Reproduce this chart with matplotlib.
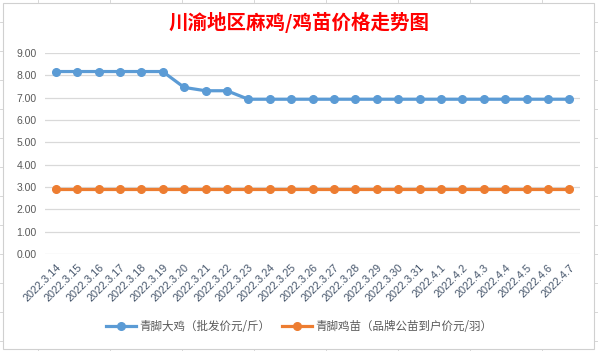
import matplotlib.pyplot as plt
from matplotlib.patches import Rectangle
from matplotlib.lines import Line2D

plt.rcParams['font.family'] = ['Noto Sans CJK SC', 'DejaVu Sans']

dates = ['2022.3.14', '2022.3.15', '2022.3.16', '2022.3.17', '2022.3.18', '2022.3.19',
         '2022.3.20', '2022.3.21', '2022.3.22', '2022.3.23', '2022.3.24', '2022.3.25',
         '2022.3.26', '2022.3.27', '2022.3.28', '2022.3.29', '2022.3.30', '2022.3.31',
         '2022.4.1', '2022.4.2', '2022.4.3', '2022.4.4', '2022.4.5', '2022.4.6', '2022.4.7']
big_chicken = [8.17, 8.17, 8.17, 8.17, 8.17, 8.17, 7.46, 7.31, 7.31,
               6.93, 6.93, 6.93, 6.93, 6.93, 6.93, 6.93, 6.93, 6.93,
               6.93, 6.93, 6.93, 6.93, 6.93, 6.93, 6.93]
chick = [2.92] * 25

fig = plt.figure(figsize=(5.98, 3.51), dpi=100)

# chart frame like an excel chart object
W, H = 598, 351
fig.patches.append(Rectangle((3 / W, 2 / H), 591 / W, 346 / H, transform=fig.transFigure,
                             facecolor='white', edgecolor='#d0d0d0', linewidth=0.8, zorder=-5))
for xc in [38, 110, 182, 254, 326, 398, 470, 542]:
    fig.add_artist(Line2D([xc / W, xc / W], [0, 2 / H], color='#d0d0d0', lw=0.6))
    fig.add_artist(Line2D([xc / W, xc / W], [1 - 2 / H, 1], color='#d0d0d0', lw=0.6))
for yr in range(10, 351, 29):
    fig.add_artist(Line2D([0, 3 / W], [yr / H, yr / H], color='#d0d0d0', lw=0.6))
    fig.add_artist(Line2D([1 - 4 / W, 1], [yr / H, yr / H], color='#d0d0d0', lw=0.6))

ax = fig.add_axes([45 / W, 1 - 254 / H, 535 / W, 201 / H])
x = list(range(len(dates)))
ax.plot(x, big_chicken, color='#5B9BD5', lw=2.3, marker='o', ms=5.5, label='青脚大鸡（批发价元/斤）')
ax.plot(x, chick, color='#ED7D31', lw=2.3, marker='o', ms=5.5, label='青脚鸡苗（品牌公苗到户价元/羽）')

ax.set_xlim(-0.5, len(dates) - 0.5)
ax.set_ylim(0, 9)
ax.set_yticks(range(10))
ax.set_yticklabels(['%.2f' % v for v in range(10)], fontsize=7.5, color='#595959',
                   family=['Liberation Sans', 'DejaVu Sans'])
ax.set_xticks(x)
ax.set_xticklabels(dates, rotation=45, ha='right', va='top', rotation_mode='anchor',
                   fontsize=7.8, color='#44546A', family=['Liberation Sans', 'DejaVu Sans'])
ax.tick_params(length=0, pad=6)
ax.grid(axis='y', color='#d9d9d9', lw=0.9)
ax.set_axisbelow(True)
for s in ax.spines.values():
    s.set_visible(False)

fig.text(0.5, 1 - 22 / H, '川渝地区麻鸡/鸡苗价格走势图', ha='center', va='center',
         color='#FF0000', fontsize=14, fontweight='bold')

fig.legend(loc='center', bbox_to_anchor=(0.5, 1 - 327 / H), ncol=2, frameon=False,
           fontsize=8.3, handlelength=2.6, handletextpad=0.3, columnspacing=1.0,
           labelcolor='#595959')

fig.savefig('out.png', dpi=100)
